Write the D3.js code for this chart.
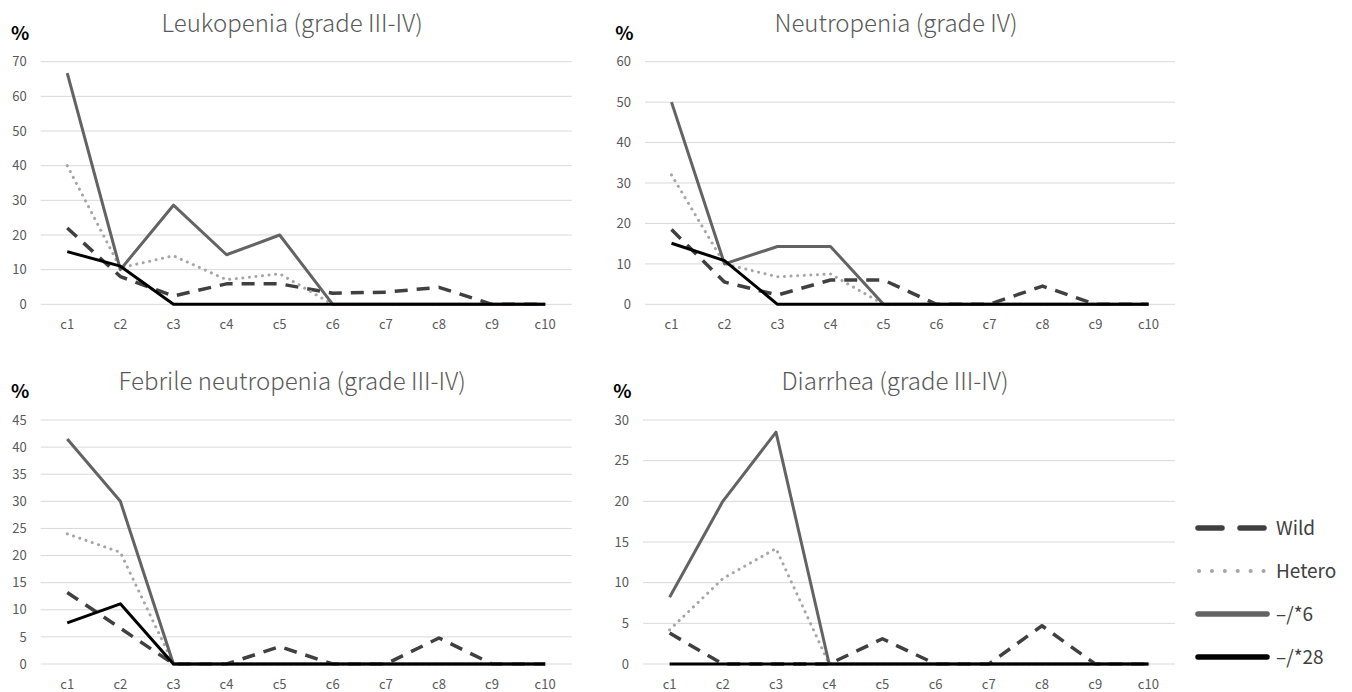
<!DOCTYPE html>
<html>
<head>
<meta charset="utf-8">
<script src="https://cdn.jsdelivr.net/npm/d3@7"></script>
<style>
  body { margin: 0; background: #fff; }
  svg { display: block; }
</style>
</head>
<body>
<svg width="1352" height="692"></svg>
<script>
// categories and labels
const cycles = ["c1", "c2", "c3", "c4", "c5", "c6", "c7", "c8", "c9", "c10"]
const seriesNames = ["Wild", "Hetero", "\u2013/*6", "\u2013/*28"]
const panelTitles = [
  "Leukopenia (grade III-IV)",
  "Neutropenia (grade IV)",
  "Febrile neutropenia (grade III-IV)",
  "Diarrhea (grade III-IV)"
]
const panelMax = [70, 60, 45, 30]
const panelStep = [10, 10, 5, 5]

// Leukopenia
const leukWild = [22, 8, 2.4, 5.9, 5.9, 3.2, 3.5, 4.9, 0, 0]
const leukHetero = [40, 10.5, 14, 7.1, 8.8, 0, 0, 0, 0, 0]
const leukStar6 = [66.7, 10, 28.6, 14.3, 20, 0, 0, 0, 0, 0]
const leukStar28 = [15.2, 11, 0, 0, 0, 0, 0, 0, 0, 0]

// Neutropenia
const neutWild = [18.5, 5.5, 2.3, 6, 6, 0, 0, 4.5, 0, 0]
const neutHetero = [32, 10, 6.8, 7.5, 0, 0, 0, 0, 0, 0]
const neutStar6 = [50, 10, 14.3, 14.3, 0, 0, 0, 0, 0, 0]
const neutStar28 = [15.1, 10.8, 0, 0, 0, 0, 0, 0, 0, 0]

// Febrile neutropenia
const febWild = [13.2, 6.6, 0, 0, 3.2, 0, 0, 4.8, 0, 0]
const febHetero = [24, 20.6, 0, 0, 0, 0, 0, 0, 0, 0]
const febStar6 = [41.5, 30, 0, 0, 0, 0, 0, 0, 0, 0]
const febStar28 = [7.6, 11.1, 0, 0, 0, 0, 0, 0, 0, 0]

// Diarrhea
const diaWild = [3.8, 0, 0, 0, 3.1, 0, 0, 4.7, 0, 0]
const diaHetero = [4.2, 10.5, 14.2, 0, 0, 0, 0, 0, 0, 0]
const diaStar6 = [8.2, 20, 28.5, 0, 0, 0, 0, 0, 0, 0]
const diaStar28 = [0, 0, 0, 0, 0, 0, 0, 0, 0, 0]

const panelSeries = [
  [leukWild, leukHetero, leukStar6, leukStar28],
  [neutWild, neutHetero, neutStar6, neutStar28],
  [febWild, febHetero, febStar6, febStar28],
  [diaWild, diaHetero, diaStar6, diaStar28]
]

// line looks, same order as seriesNames
const lineColor = ["#404040", "#a6a6a6", "#636363", "#000000"]
const lineWidth = [3.5, 3, 3, 3]
const lineDash = ["13,9", "0.1,6.5", null, null]

const svg = d3.select("svg")
const font = "'Noto Sans CJK JP', 'Noto Sans', sans-serif"

// plot boxes: left, right, top, bottom
const boxes = [
  [40.7, 571.7, 61.7, 304.3],
  [645, 1175, 61.7, 304.3],
  [40.7, 571.7, 420, 664],
  [643, 1175, 420, 664]
]

boxes.forEach((b, p) => {
  const [left, right, top, bottom] = b
  const g = svg.append("g")

  const x = d3.scaleBand().domain(cycles).range([left, right])
  const y = d3.scaleLinear().domain([0, panelMax[p]]).range([bottom, top])
  const ticks = d3.range(0, panelMax[p] + 0.001, panelStep[p])

  // grid
  g.selectAll("line.grid")
    .data(ticks)
    .join("line")
    .attr("x1", left).attr("x2", right)
    .attr("y1", d => y(d)).attr("y2", d => y(d))
    .attr("stroke", "#d9d9d9")
    .attr("stroke-width", 1)

  // y tick labels
  g.selectAll("text.ytick")
    .data(ticks)
    .join("text")
    .attr("x", left - 14)
    .attr("y", d => y(d))
    .attr("dy", "0.36em")
    .attr("text-anchor", "end")
    .attr("font-family", font)
    .attr("font-size", 13)
    .attr("fill", "#595959")
    .text(d => d)

  // x tick labels
  g.selectAll("text.xtick")
    .data(cycles)
    .join("text")
    .attr("x", d => x(d) + x.bandwidth() / 2)
    .attr("y", bottom + 25)
    .attr("text-anchor", "middle")
    .attr("font-family", font)
    .attr("font-size", 13)
    .attr("fill", "#595959")
    .text(d => d)

  // % label
  g.append("text")
    .attr("x", left - 20.5)
    .attr("y", top - 22)
    .attr("text-anchor", "middle")
    .attr("font-family", font)
    .attr("font-size", 19)
    .attr("font-weight", 700)
    .attr("fill", "#000")
    .text("%")

  // title
  g.append("text")
    .attr("x", (left + right) / 2 - 14)
    .attr("y", top - 30)
    .attr("text-anchor", "middle")
    .attr("font-family", font)
    .attr("font-size", 24)
    .attr("font-weight", 300)
    .attr("fill", "#595959")
    .text(panelTitles[p])

  const line = d3.line()
    .x((d, i) => x(cycles[i]) + x.bandwidth() / 2)
    .y(d => y(d))

  panelSeries[p].forEach((vals, s) => {
    g.append("path")
      .attr("d", line(vals))
      .attr("fill", "none")
      .attr("stroke", lineColor[s])
      .attr("stroke-width", lineWidth[s])
      .attr("stroke-linejoin", "round")
      .attr("stroke-linecap", s === 1 ? "round" : "butt")
      .attr("stroke-dasharray", lineDash[s])
  })
})

// legend
const legendY = d3.scalePoint().domain(seriesNames).range([528, 657])
const legendDash = ["24,18", "0.1,12.8", null, null]
const legendColor = ["#404040", "#a6a6a6", "#636363", "#000000"]
const lg = svg.append("g")
seriesNames.forEach((name, s) => {
  lg.append("line")
    .attr("x1", s === 1 ? 1199 : 1198).attr("x2", 1267)
    .attr("y1", legendY(name)).attr("y2", legendY(name))
    .attr("stroke", legendColor[s])
    .attr("stroke-width", s === 1 ? 4 : 5.5)
    .attr("stroke-linecap", "round")
    .attr("stroke-dasharray", legendDash[s])
  lg.append("text")
    .attr("x", 1276)
    .attr("y", legendY(name))
    .attr("dy", "0.36em")
    .attr("font-family", font)
    .attr("font-size", 19)
    .attr("fill", "#404040")
    .text(name)
})
</script>
</body>
</html>
